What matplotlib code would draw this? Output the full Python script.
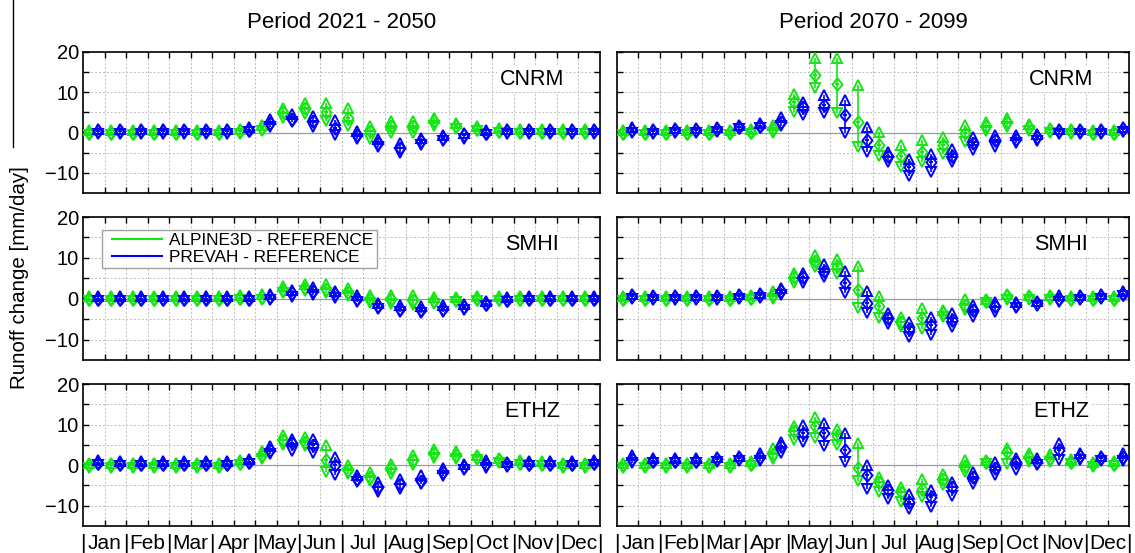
import numpy as np
import matplotlib
matplotlib.use('Agg')
import matplotlib.pyplot as plt
from matplotlib.lines import Line2D
from matplotlib.legend_handler import HandlerLine2D
from matplotlib import transforms

plt.rcParams['font.family'] = ['Liberation Sans', 'DejaVu Sans']

# ---------------- data ----------------
MONTHS = ['Jan', 'Feb', 'Mar', 'Apr', 'May', 'Jun', 'Jul', 'Aug', 'Sep', 'Oct', 'Nov', 'Dec']
PERIODS = ['Period 2021 - 2050', 'Period 2070 - 2099']
MODELS = ['CNRM', 'SMHI', 'ETHZ']
SERIES_LABELS = ['ALPINE3D - REFERENCE', 'PREVAH - REFERENCE']
STEPS = np.arange(1, 25)   # two steps per month

# ---- CNRM 2021-2050 ----
a3d_cnrm_p1_mean = [0, 0, 0, 0, 0, 0, 0, 0.3, 1.2, 5.0, 6.0, 5.0, 3.7, 0.3, 1.6, 1.6, 2.8, 1.6, 1.0, 0.5, 0.2, 0.2, 0.2, 0.2]
a3d_cnrm_p1_hi = [0.6, 0.6, 0.6, 0.6, 0.6, 0.6, 0.6, 0.9, 2.0, 6.2, 7.4, 7.4, 6.2, 1.6, 2.8, 2.8, 3.7, 2.4, 1.6, 1.2, 0.8, 0.8, 0.8, 0.8]
a3d_cnrm_p1_lo = [-0.6, -0.6, -0.6, -0.6, -0.6, -0.6, -0.6, -0.3, 0.4, 3.7, 4.5, 2.8, 1.6, -1.5, 0.0, 0.0, 1.6, 0.8, 0.3, -0.2, -0.4, -0.4, -0.4, -0.4]
prv_cnrm_p1_mean = [0.3, 0.3, 0.3, 0.3, 0.3, 0.3, 0.3, 0.75, 2.4, 3.4, 2.8, 1.2, -0.5, -2.6, -3.8, -2.2, -1.3, -0.7, 0.0, 0.3, 0.3, 0.3, 0.3, 0.3]
prv_cnrm_p1_hi = [0.9, 0.9, 0.9, 0.9, 0.9, 0.9, 0.9, 1.4, 3.3, 4.5, 4.0, 3.0, 0.5, -1.5, -2.5, -1.3, -0.5, 0.0, 0.6, 0.9, 0.9, 0.9, 0.9, 0.9]
prv_cnrm_p1_lo = [-0.3, -0.3, -0.3, -0.3, -0.3, -0.3, -0.3, 0.2, 1.5, 2.5, 1.5, -0.5, -1.5, -3.5, -5.0, -3.0, -2.2, -1.5, -0.6, -0.3, -0.3, -0.3, -0.3, -0.3]

# ---- SMHI 2021-2050 ----
a3d_smhi_p1_mean = [0, 0, 0, 0, 0, 0, 0, 0.2, 0.5, 2.2, 2.7, 2.5, 1.7, 0.0, 0.0, -0.3, -0.6, -0.3, 0.0, 0, 0, 0, 0, 0]
a3d_smhi_p1_hi = [0.6, 0.6, 0.6, 0.6, 0.6, 0.6, 0.6, 0.8, 1.2, 3.0, 3.6, 3.5, 2.7, 1.0, 1.0, 0.8, 0.3, 0.3, 0.6, 0.6, 0.6, 0.6, 0.6, 0.6]
a3d_smhi_p1_lo = [-0.6, -0.6, -0.6, -0.6, -0.6, -0.6, -0.6, -0.4, -0.2, 1.3, 1.8, 1.5, 0.7, -1.0, -1.2, -1.5, -1.2, -0.8, -0.6, -0.6, -0.6, -0.6, -0.6, -0.6]
prv_smhi_p1_mean = [0, 0, 0, 0, 0, 0, 0, 0, 0.5, 1.3, 1.9, 1.1, 0.0, -1.8, -2.5, -2.7, -2.5, -2.0, -1.2, -0.3, 0, 0, 0, 0]
prv_smhi_p1_hi = [0.6, 0.6, 0.6, 0.6, 0.6, 0.6, 0.6, 0.6, 1.2, 2.2, 2.8, 2.0, 1.0, -1.0, -1.5, -1.8, -1.6, -1.2, -0.5, 0.3, 0.6, 0.6, 0.6, 0.6]
prv_smhi_p1_lo = [-0.6, -0.6, -0.6, -0.6, -0.6, -0.6, -0.6, -0.6, -0.2, 0.5, 1.0, 0.2, -0.8, -2.6, -3.3, -3.6, -3.3, -2.8, -1.9, -0.9, -0.6, -0.6, -0.6, -0.6]

# ---- ETHZ 2021-2050 ----
a3d_ethz_p1_mean = [0, 0, 0, 0, 0, 0, 0, 0.6, 2.5, 6.2, 5.8, 1.2, -1.2, -2.9, -0.8, 1.2, 2.9, 2.5, 1.9, 1.2, 0.6, 0.4, 0.0, 0.0]
a3d_ethz_p1_hi = [0.6, 0.6, 0.6, 0.6, 0.6, 0.6, 0.6, 1.2, 3.5, 7.5, 6.9, 5.0, 0.0, -1.7, 0.4, 2.5, 4.0, 3.5, 2.5, 1.8, 1.2, 1.0, 0.6, 0.6]
a3d_ethz_p1_lo = [-0.6, -0.6, -0.6, -0.6, -0.6, -0.6, -0.6, 0.0, 1.5, 5.0, 4.8, -1.7, -2.3, -4.0, -2.2, 0.0, 1.8, 1.5, 1.2, 0.6, 0.0, -0.2, -0.6, -0.6]
prv_ethz_p1_mean = [0.6, 0.4, 0.4, 0.4, 0.4, 0.4, 0.4, 0.8, 3.7, 5.4, 5.0, 0.0, -3.3, -5.4, -4.6, -3.8, -1.7, -0.4, 0.4, 0.2, 0.4, 0.4, 0.4, 0.6]
prv_ethz_p1_hi = [1.2, 1.0, 1.0, 1.0, 1.0, 1.0, 1.0, 1.5, 4.6, 6.5, 6.5, 2.0, -2.5, -4.2, -3.5, -2.5, -0.8, 0.4, 1.2, 0.8, 1.0, 1.0, 1.0, 1.2]
prv_ethz_p1_lo = [0.0, -0.2, -0.2, -0.2, -0.2, -0.2, -0.2, 0.2, 2.8, 3.5, 3.0, -2.5, -4.2, -6.5, -5.8, -4.6, -2.7, -1.2, -0.6, -0.4, -0.2, -0.2, -0.2, 0.0]

# ---- CNRM 2070-2099 ----
a3d_cnrm_p2_mean = [0, 0, 0, 0, 0, 0.1, 0.2, 1.0, 7.7, 14.3, 12.0, 2.7, -3.2, -5.7, -4.8, -3.2, 0.0, 1.7, 2.7, 1.4, 0.6, 0.3, 0.0, 0.0]
a3d_cnrm_p2_hi = [0.6, 0.6, 0.6, 0.6, 0.6, 0.7, 0.8, 1.8, 9.5, 18.5, 18.5, 11.7, 0.2, -3.2, -1.9, -1.1, 2.0, 2.5, 3.5, 2.2, 1.2, 0.9, 0.6, 0.6]
a3d_cnrm_p2_lo = [-0.6, -0.6, -0.6, -0.6, -0.6, -0.5, -0.4, 0.0, 5.2, 11.0, 4.8, -3.6, -5.7, -8.6, -7.3, -5.2, -2.3, 0.3, 1.4, 0.3, 0.0, -0.3, -0.6, -0.6]
prv_cnrm_p2_mean = [0.6, 0.3, 0.6, 0.6, 0.8, 1.4, 1.7, 2.7, 6.4, 6.8, 4.3, -1.9, -5.7, -8.6, -7.3, -5.7, -2.7, -1.9, -1.5, -1.1, 0.3, 0.3, 0.3, 0.8]
prv_cnrm_p2_hi = [1.3, 0.9, 1.2, 1.2, 1.4, 2.0, 2.3, 3.9, 7.5, 9.3, 8.1, 1.4, -4.8, -6.5, -5.2, -4.0, -1.1, -0.5, -0.7, -0.3, 0.9, 0.9, 0.9, 1.4]
prv_cnrm_p2_lo = [-0.1, -0.3, 0.0, 0.0, 0.2, 0.8, 1.1, 1.7, 4.3, 4.8, -0.2, -4.8, -7.3, -10.7, -9.7, -7.2, -4.4, -3.6, -2.7, -2.0, -0.3, -0.3, -0.3, 0.2]

# ---- SMHI 2070-2099 ----
a3d_smhi_p2_mean = [0, 0, 0, 0, 0, 0, 0.2, 1.0, 5.2, 9.3, 8.1, 2.2, -1.9, -5.7, -4.8, -3.6, -1.5, -0.5, 0.6, 0.3, 0.3, 0.0, 0.0, 0.0]
a3d_smhi_p2_hi = [0.6, 0.6, 0.6, 0.6, 0.6, 0.6, 0.8, 1.8, 6.4, 10.6, 9.8, 8.1, 0.6, -4.4, -2.3, -2.7, 0.0, 0.0, 1.2, 0.9, 0.9, 0.6, 0.6, 0.6]
a3d_smhi_p2_lo = [-0.6, -0.6, -0.6, -0.6, -0.6, -0.6, -0.4, 0.0, 3.9, 7.7, 6.0, -2.3, -4.8, -6.9, -7.3, -4.4, -2.7, -1.1, -0.2, -0.3, -0.3, -0.6, -0.6, -0.6]
prv_smhi_p2_mean = [0.6, 0.3, 0.3, 0.3, 0.3, 0.6, 0.8, 1.8, 5.2, 6.8, 3.9, -1.1, -4.8, -7.3, -6.5, -5.2, -2.7, -1.9, -1.5, -1.1, 0.0, 0.3, 0.6, 1.2]
prv_smhi_p2_hi = [1.2, 0.9, 0.9, 0.9, 0.9, 1.2, 1.4, 2.7, 6.4, 8.5, 6.8, 1.8, -3.6, -5.7, -4.4, -3.6, -1.5, -0.7, -0.7, -0.5, 0.8, 0.9, 1.2, 1.8]
prv_smhi_p2_lo = [0.0, -0.3, -0.3, -0.3, -0.3, 0.0, 0.2, 1.0, 3.9, 5.2, 1.4, -3.6, -6.1, -9.4, -9.0, -6.9, -4.4, -3.2, -2.3, -1.7, -0.8, -0.3, 0.0, 0.6]

# ---- ETHZ 2070-2099 ----
a3d_ethz_p2_mean = [0, 0, 0, 0, 0, 0, 0.4, 2.7, 8.3, 9.6, 7.1, -0.8, -4.2, -6.7, -5.8, -3.3, -0.2, 0.8, 3.3, 1.9, 1.7, 0.8, 0.2, 0.4]
a3d_ethz_p2_hi = [0.6, 0.6, 0.6, 0.6, 0.6, 0.6, 1.0, 4.2, 9.6, 11.9, 8.8, 5.4, -2.9, -5.4, -3.3, -2.1, 1.2, 1.2, 4.2, 2.9, 2.7, 1.4, 0.8, 1.0]
a3d_ethz_p2_lo = [-0.6, -0.6, -0.6, -0.6, -0.6, -0.6, -0.2, 1.4, 6.2, 6.7, 5.0, -3.8, -6.7, -9.2, -7.9, -5.0, -1.7, 0.4, 0.4, 0.8, 0.8, 0.2, -0.4, -0.2]
prv_ethz_p2_mean = [1.4, 1.1, 1.1, 1.1, 1.4, 1.7, 1.9, 4.6, 7.9, 7.9, 3.8, -2.5, -6.2, -9.2, -7.9, -5.4, -2.9, -0.8, 0.8, 0.8, 3.8, 2.2, 1.7, 1.9]
prv_ethz_p2_hi = [2.5, 1.7, 1.7, 1.7, 2.0, 2.3, 2.9, 5.8, 10.0, 10.4, 7.9, 0.0, -5.0, -7.1, -6.2, -4.2, -1.7, 0.8, 1.7, 1.7, 5.4, 2.9, 2.2, 2.9]
prv_ethz_p2_lo = [0.6, 0.5, 0.5, 0.5, 0.8, 1.1, 1.1, 2.9, 5.8, 4.6, 0.8, -5.8, -8.3, -10.8, -10.2, -7.5, -4.6, -2.5, -1.2, 0.0, 1.2, 1.2, 1.1, 1.1]

PANELS = [
    [(a3d_cnrm_p1_mean, a3d_cnrm_p1_hi, a3d_cnrm_p1_lo, prv_cnrm_p1_mean, prv_cnrm_p1_hi, prv_cnrm_p1_lo),
     (a3d_cnrm_p2_mean, a3d_cnrm_p2_hi, a3d_cnrm_p2_lo, prv_cnrm_p2_mean, prv_cnrm_p2_hi, prv_cnrm_p2_lo)],
    [(a3d_smhi_p1_mean, a3d_smhi_p1_hi, a3d_smhi_p1_lo, prv_smhi_p1_mean, prv_smhi_p1_hi, prv_smhi_p1_lo),
     (a3d_smhi_p2_mean, a3d_smhi_p2_hi, a3d_smhi_p2_lo, prv_smhi_p2_mean, prv_smhi_p2_hi, prv_smhi_p2_lo)],
    [(a3d_ethz_p1_mean, a3d_ethz_p1_hi, a3d_ethz_p1_lo, prv_ethz_p1_mean, prv_ethz_p1_hi, prv_ethz_p1_lo),
     (a3d_ethz_p2_mean, a3d_ethz_p2_hi, a3d_ethz_p2_lo, prv_ethz_p2_mean, prv_ethz_p2_hi, prv_ethz_p2_lo)],
]

# ---------------- style ----------------
GREEN = '#14e614'
BLUE = '#0000ff'
W, H = 1135, 553
COLS = [(83, 517), (617, 512)]
ROWS = [(52, 193), (217, 360), (384, 526)]
DIAMOND = [(0, 1), (0.8, 0), (0, -1), (-0.8, 0), (0, 1)]

fig = plt.figure(figsize=(W / 100, H / 100), dpi=100)


def draw_series(ax, x, mean, hi, lo, color):
    ax.vlines(x, lo, hi, colors=color, lw=1.2, zorder=3)
    kw = dict(ls='none', mfc='none', mec=color, mew=1.4, zorder=4)
    ax.plot(x, hi, marker='^', ms=7.0, **kw)
    ax.plot(x, lo, marker='v', ms=7.0, **kw)
    ax.plot(x, mean, marker=DIAMOND, ms=9.0, **kw)
    ax.plot(x, mean, marker='_', ms=3.4, **kw)


for r, (top, bot) in enumerate(ROWS):
    for c, (left, width) in enumerate(COLS):
        ax = fig.add_axes([left / W, 1 - bot / H, width / W, (bot - top) / H])
        a_m, a_h, a_l, p_m, p_h, p_l = PANELS[r][c]
        draw_series(ax, STEPS - 0.2, a_m, a_h, a_l, GREEN)
        draw_series(ax, STEPS + 0.2, p_m, p_h, p_l, BLUE)
        ax.axhline(0, color='#9a9a9a', lw=0.9, zorder=1.5)
        ax.set_xlim(0.5, 24.5)
        ax.set_ylim(-15, 20)
        ax.set_xticks(np.arange(1.5, 24.0, 1.0))
        ax.set_yticks([-10, 0, 10, 20])
        ax.set_yticks([-5, 5, 15], minor=True)
        ax.grid(which='both', ls=(0, (2, 2)), color='#bdbdbd', lw=0.7, zorder=0)
        ax.set_axisbelow(True)
        ax.tick_params(which='both', direction='in', top=True, right=True,
                       length=4, width=1.0, labelbottom=False, labelsize=14.5, pad=3)
        if c == 1:
            ax.tick_params(labelleft=False)
        for s in ax.spines.values():
            s.set_linewidth(1.2)
        trans = transforms.blended_transform_factory(ax.transAxes, ax.transData)
        ax.text(0.868, 13.2, MODELS[r], transform=trans, ha='center', va='center',
                fontsize=15.5, zorder=5,
                bbox=dict(facecolor='white', edgecolor='none', pad=1.5))
        if r == 1 and c == 0:
            handles = [Line2D([], [], color=GREEN, lw=1.5), Line2D([], [], color=BLUE, lw=1.5)]
            leg = ax.legend(handles, SERIES_LABELS, loc='upper left',
                            bbox_to_anchor=(0.036, 0.91), fontsize=12.4, frameon=True,
                            fancybox=False, borderpad=0.18, labelspacing=0.12,
                            handlelength=3.3, handletextpad=0.45, borderaxespad=0,
                            handler_map={Line2D: HandlerLine2D(xpad=0.45)})
            leg.get_frame().set_edgecolor('#8a8a8a')
            leg.get_frame().set_linewidth(1.0)
            leg.set_zorder(6)
        if r == 2:
            tb = transforms.blended_transform_factory(ax.transData, ax.transAxes)
            for m, name in enumerate(MONTHS):
                ax.text(2 * m + 1.5, -0.12, name, transform=tb, ha='center', va='center',
                        fontsize=15, clip_on=False)
            for b in range(13):
                ax.text(2 * b + 0.5, -0.12, '|', transform=tb, ha='center', va='center',
                        fontsize=15, clip_on=False)
        if r == 0:
            fig.text((left + width / 2) / W, 1 - 22 / H, PERIODS[c], ha='center', va='center',
                     fontsize=16)

fig.text(20 / W, 1 - 278 / H, 'Runoff change [mm/day]', rotation=90, ha='center', va='center',
         fontsize=14.8)
fig.add_artist(Line2D([13 / W, 13 / W], [1.0, 1 - 147 / H], color='black', lw=1.0,
                      transform=fig.transFigure))

fig.savefig('out.png', dpi=100)
